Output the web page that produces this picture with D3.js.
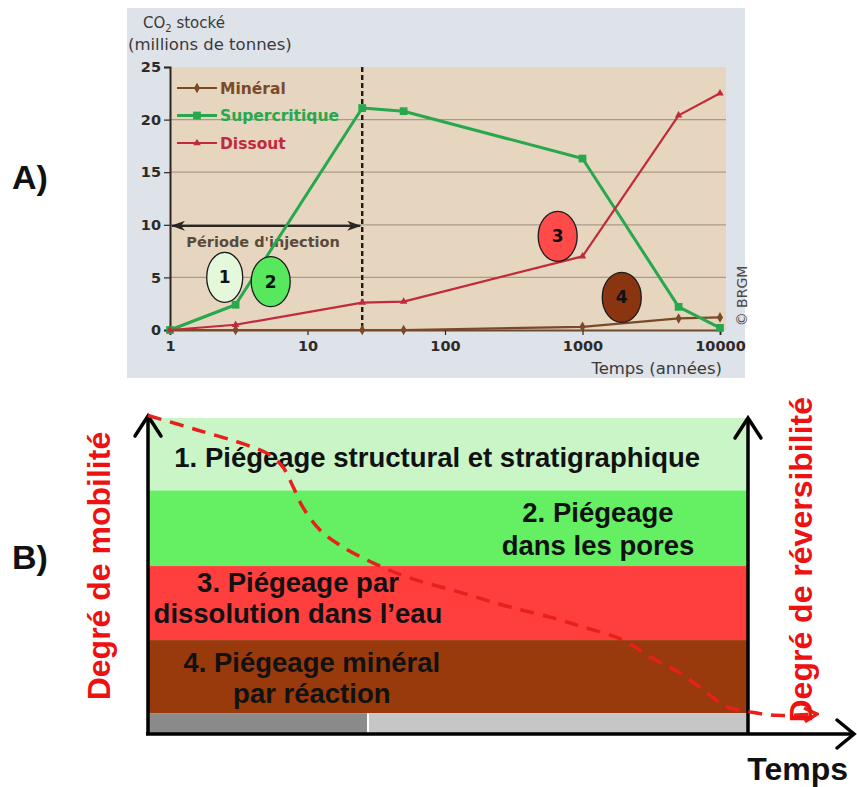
<!DOCTYPE html>
<html>
<head>
<meta charset="utf-8">
<script src="https://cdn.jsdelivr.net/npm/d3@7"></script>
<style>
body { margin: 0; background: #fff; }
svg text { font-family: "DejaVu Sans", sans-serif; }
.bfont { font-family: "Liberation Sans", Arial, sans-serif; font-weight: bold; }
</style>
</head>
<body>
<svg id="chart" width="857" height="787"></svg>
<script>

// ---- panel A data (millions de tonnes de CO2 stocke) ----
var years = [1, 3, 25, 50, 1000, 5000, 10000];
var mineral = [0, 0, 0, 0, 0.3, 1.1, 1.2];
var supercritique = [0, 2.4, 21.1, 20.8, 16.3, 2.2, 0.2];
var dissout = [0, 0.5, 2.6, 2.7, 7.0, 20.4, 22.5];

var xTicks = [1, 10, 100, 1000, 10000];
var yTicks = [0, 5, 10, 15, 20, 25];

var legendNames = ['Minéral', 'Supercritique', 'Dissout'];
var legendColors = ['#7a4a28', '#27a84c', '#c02a3c'];

var injectionEnd = 25;  // fin de la periode d'injection (annees)

// numbered bubbles: position (year, value) and fill
var bubbleLabels = ['1', '2', '3', '4'];
var bubbleYears = [2.5, 5.4, 660, 1930];
var bubbleValues = [5.0, 4.6, 8.9, 3.1];
var bubbleColors = ['#e4f8dc', '#58e85e', '#ff4a4a', '#8a3510'];

// ---- panel B data (schematic, 0-100 units) ----
var bandLines = [
	['1. Piégeage structural et stratigraphique'],
	['2. Piégeage', 'dans les pores'],
	['3. Piégeage par', 'dissolution dans l\u2019eau'],
	['4. Piégeage minéral', 'par réaction']
];
var bandTop = [100, 77, 53, 29.5];
var bandBottom = [77, 53, 29.5, 6.3];
var bandColors = ['#caf5c6', '#64f062', '#ff3e3e', '#983a0c'];
var bandTextX = [48.2, 75, 25, 27.3];
var bandTextY = [[84.4], [67, 56.5], [44.8, 34.9], [19.4, 9.5]];

var greySplit = 36.5;  // end of dark grey part of the time bar

// red dashed mobility curve
var curveT = [0, 8.2, 16.5, 20.3, 22.5, 24.2, 25.8, 28.7, 32.5, 37.5, 43.2, 52.5, 60.3, 67, 72.5, 79.2, 83.7, 88.7, 92.5, 96.5, 100.3, 104.5, 111.5];
var curveM = [100.8, 96.2, 91.4, 88.3, 84.4, 78.1, 71.7, 64.4, 59.0, 54.0, 49.5, 44.4, 40.0, 36.8, 33.7, 29.5, 24.1, 19.0, 13.7, 8.3, 6.7, 5.6, 6.0];


var svg = d3.select('#chart');

// ================= panel A =================
var x = d3.scaleLog().domain([1, 10000]).range([170, 720]);
var y = d3.scaleLinear().domain([0, 25]).range([330, 67]);

svg.append('rect')
	.attr('x', 127).attr('y', 8)
	.attr('width', 618).attr('height', 370)
	.attr('fill', '#dee2e9');

svg.append('rect')
	.attr('x', x(1)).attr('y', y(25))
	.attr('width', x(10000) - x(1) + 6)
	.attr('height', y(0) - y(25))
	.attr('fill', '#e6d5bf');

// gridlines
svg.append('g').selectAll('line')
	.data(yTicks.filter(function (d) { return d > 0 && d < 25; }))
	.enter().append('line')
	.attr('x1', x(1)).attr('x2', x(10000) + 6)
	.attr('y1', function (d) { return y(d); })
	.attr('y2', function (d) { return y(d); })
	.attr('stroke', '#aa9a88')
	.attr('stroke-width', 1.3);

// y axis
var yAxis = d3.axisLeft(y).tickValues(yTicks).tickSize(6).tickPadding(3);
var gy = svg.append('g')
	.attr('transform', 'translate(' + x(1) + ',0)')
	.call(yAxis);
gy.select('.domain').attr('stroke', '#2e2620').attr('stroke-width', 2);
gy.selectAll('.tick line').attr('stroke', '#2e2620').attr('stroke-width', 1.2);
gy.selectAll('.tick text')
	.attr('font-size', 14.5).attr('font-weight', 'bold')
	.attr('fill', '#2e2a28').attr('font-family', 'DejaVu Sans');

// x axis
var xAxis = d3.axisBottom(x).tickValues(xTicks).tickFormat(d3.format('d')).tickSize(5).tickPadding(6);
var gx = svg.append('g')
	.attr('transform', 'translate(0,' + y(0) + ')')
	.call(xAxis);
gx.select('.domain').attr('stroke', '#6a4a30').attr('stroke-width', 2);
gx.selectAll('.tick line').attr('stroke', '#2e2620').attr('stroke-width', 1.2);
gx.selectAll('.tick text')
	.attr('font-size', 14.5).attr('font-weight', 'bold')
	.attr('fill', '#2e2a28').attr('font-family', 'DejaVu Sans');

// axis titles
var yTitle = svg.append('text')
	.attr('x', 143).attr('y', 28)
	.attr('font-size', 15).attr('fill', '#3a3a3a');
yTitle.append('tspan').text('CO');
yTitle.append('tspan').attr('font-size', 10).attr('dy', 4).text('2');
yTitle.append('tspan').attr('dy', -4).text(' stocké');

svg.append('text')
	.attr('x', 128).attr('y', 50)
	.attr('font-size', 16.5).attr('fill', '#3a3a3a')
	.text('(millions de tonnes)');

svg.append('text')
	.attr('x', x(10000) + 2).attr('y', 374)
	.attr('text-anchor', 'end')
	.attr('font-size', 16.5).attr('fill', '#3a3a3a')
	.text('Temps (années)');

svg.append('text')
	.attr('transform', 'translate(747,296)rotate(-90)')
	.attr('text-anchor', 'middle')
	.attr('font-size', 14).attr('fill', '#4a4a4a')
	.text('© BRGM');

// injection period: dashed vertical + double arrow
svg.append('line')
	.attr('x1', x(injectionEnd)).attr('x2', x(injectionEnd))
	.attr('y1', y(25)).attr('y2', y(0))
	.attr('stroke', '#1e1a18').attr('stroke-width', 2.4)
	.attr('stroke-dasharray', '5,3');

var defs = svg.append('defs');
defs.append('marker')
	.attr('id', 'arrA').attr('viewBox', '0 0 14 10')
	.attr('refX', 13).attr('refY', 5)
	.attr('markerWidth', 14).attr('markerHeight', 10)
	.attr('markerUnits', 'userSpaceOnUse')
	.attr('orient', 'auto-start-reverse')
	.append('path').attr('d', 'M0,0 L14,5 L0,10 L4,5 Z').attr('fill', '#2a2624');

svg.append('line')
	.attr('x1', x(1) + 2).attr('x2', x(injectionEnd) - 2)
	.attr('y1', y(10) + 1).attr('y2', y(10) + 1)
	.attr('stroke', '#2a2624').attr('stroke-width', 2.2)
	.attr('marker-start', 'url(#arrA)')
	.attr('marker-end', 'url(#arrA)');

svg.append('text')
	.attr('x', (x(1) + x(injectionEnd)) / 2 - 3).attr('y', 247)
	.attr('text-anchor', 'middle')
	.attr('font-size', 14.5).attr('font-weight', 'bold')
	.attr('fill', '#5a4a3c')
	.text('Période d\'injection');

// series
var series = [mineral, supercritique, dissout];
var symbols = [d3.symbolDiamond, d3.symbolSquare, d3.symbolTriangle];
var symSizes = [32, 60, 24];
var widths = [2.2, 3, 2.2];

var line = d3.line()
	.x(function (d, i) { return x(years[i]); })
	.y(function (d) { return y(d); });

series.forEach(function (s, k) {
	svg.append('path')
		.attr('d', line(s))
		.attr('fill', 'none')
		.attr('stroke', legendColors[k])
		.attr('stroke-width', widths[k])
		.attr('stroke-linejoin', 'round');
	svg.append('g').selectAll('path')
		.data(s)
		.enter().append('path')
		.attr('transform', function (d, i) { return 'translate(' + x(years[i]) + ',' + y(d) + ')'; })
		.attr('d', d3.symbol().type(symbols[k]).size(symSizes[k]))
		.attr('fill', legendColors[k]);
});

// legend
var leg = svg.append('g');
legendNames.forEach(function (name, k) {
	var ly = 88 + k * 27.5;
	leg.append('line')
		.attr('x1', 177).attr('x2', 217)
		.attr('y1', ly).attr('y2', ly)
		.attr('stroke', legendColors[k]).attr('stroke-width', widths[k]);
	leg.append('path')
		.attr('transform', 'translate(197,' + ly + ')')
		.attr('d', d3.symbol().type(symbols[k]).size(symSizes[k]))
		.attr('fill', legendColors[k]);
	leg.append('text')
		.attr('x', 220).attr('y', ly + 5.5)
		.attr('font-size', 15.5).attr('font-weight', 'bold')
		.attr('fill', legendColors[k])
		.text(name);
});

// numbered bubbles
var bub = svg.append('g').selectAll('g')
	.data(bubbleLabels)
	.enter().append('g')
	.attr('transform', function (d, i) { return 'translate(' + x(bubbleYears[i]) + ',' + y(bubbleValues[i]) + ')'; });
bub.append('ellipse')
	.attr('rx', function (d, i) { return i == 0 ? 18 : 19.5; })
	.attr('ry', 25)
	.attr('fill', function (d, i) { return bubbleColors[i]; })
	.attr('stroke', '#1a1a1a').attr('stroke-width', 1.3);
bub.append('text')
	.attr('y', 6)
	.attr('text-anchor', 'middle')
	.attr('font-size', 17).attr('font-weight', 'bold')
	.attr('font-family', function (d, i) { return i < 2 ? 'DejaVu Sans' : 'Liberation Serif'; })
	.attr('fill', '#111')
	.text(function (d) { return d; });

// ================= panel B =================
var xB = d3.scaleLinear().domain([0, 100]).range([148, 748]);
var yB = d3.scaleLinear().domain([0, 100]).range([733, 418]);

svg.append('g').selectAll('rect')
	.data(bandColors)
	.enter().append('rect')
	.attr('x', xB(0)).attr('width', xB(100) - xB(0))
	.attr('y', function (d, i) { return yB(bandTop[i]); })
	.attr('height', function (d, i) { return yB(bandBottom[i]) - yB(bandTop[i]); })
	.attr('fill', function (d) { return d; });

// time bar
svg.append('rect')
	.attr('x', xB(0)).attr('y', yB(6.3))
	.attr('width', xB(greySplit) - xB(0)).attr('height', yB(0) - yB(6.3))
	.attr('fill', '#8a8a8a');
svg.append('rect')
	.attr('x', xB(greySplit) + 2).attr('y', yB(6.3))
	.attr('width', xB(100) - xB(greySplit) - 2).attr('height', yB(0) - yB(6.3))
	.attr('fill', '#c6c6c6');

// band labels
bandLines.forEach(function (lines, i) {
	lines.forEach(function (txt, j) {
		svg.append('text')
			.attr('class', 'bfont')
			.attr('x', xB(bandTextX[i])).attr('y', yB(bandTextY[i][j]))
			.attr('text-anchor', 'middle')
			.attr('font-size', 27.5)
			.attr('fill', '#111')
			.text(txt);
	});
});

// axes with open arrowheads
function chevron(tipX, tipY, dir) {
	var p;
	if (dir == 'up') p = [[tipX - 13, tipY + 20], [tipX, tipY], [tipX + 13, tipY + 20]];
	else p = [[tipX - 17, tipY - 14], [tipX, tipY], [tipX - 17, tipY + 14]];
	svg.append('path')
		.attr('d', d3.line()(p))
		.attr('fill', 'none').attr('stroke', '#000')
		.attr('stroke-width', 3.5).attr('stroke-linecap', 'round');
}

svg.append('line')
	.attr('x1', xB(0)).attr('x2', xB(0))
	.attr('y1', yB(0) + 2).attr('y2', yB(100) - 2)
	.attr('stroke', '#000').attr('stroke-width', 3.5);
chevron(xB(0), yB(100) - 2, 'up');

svg.append('line')
	.attr('x1', xB(100)).attr('x2', xB(100))
	.attr('y1', yB(0) + 2).attr('y2', yB(100))
	.attr('stroke', '#000').attr('stroke-width', 3.5);
chevron(xB(100), yB(100), 'up');

svg.append('line')
	.attr('x1', xB(0) - 2).attr('x2', 854)
	.attr('y1', yB(0) + 1).attr('y2', yB(0) + 1)
	.attr('stroke', '#000').attr('stroke-width', 3.5);
chevron(854, yB(0) + 1, 'right');

// red dashed curve
defs.append('marker')
	.attr('id', 'arrR').attr('viewBox', '0 0 14 14')
	.attr('refX', 12).attr('refY', 7)
	.attr('markerWidth', 16).attr('markerHeight', 16)
	.attr('markerUnits', 'userSpaceOnUse')
	.attr('orient', 'auto')
	.append('path').attr('d', 'M1,1 L12,7 L1,13').attr('fill', 'none')
	.attr('stroke', '#e8201c').attr('stroke-width', 3);

var curve = d3.line()
	.x(function (d, i) { return xB(curveT[i]); })
	.y(function (d) { return yB(d); })
	.curve(d3.curveCatmullRom);

svg.append('path')
	.attr('d', curve(curveM))
	.attr('fill', 'none')
	.attr('stroke', '#e8201c').attr('stroke-width', 3.5)
	.attr('stroke-dasharray', '14,9')
	.attr('marker-end', 'url(#arrR)');

// side titles
svg.append('text')
	.attr('class', 'bfont')
	.attr('transform', 'translate(110,' + yB(53) + ')rotate(-90)')
	.attr('text-anchor', 'middle')
	.attr('font-size', 32).attr('fill', '#ee1111')
	.text('Degré de mobilité');

svg.append('text')
	.attr('class', 'bfont')
	.attr('transform', 'translate(812,' + yB(55) + ')rotate(-90)')
	.attr('text-anchor', 'middle')
	.attr('font-size', 32).attr('fill', '#ee1111')
	.text('Degré de réversibilité');

svg.append('text')
	.attr('class', 'bfont')
	.attr('x', 848).attr('y', 780)
	.attr('text-anchor', 'end')
	.attr('font-size', 32).attr('fill', '#111')
	.text('Temps');

// panel letters
svg.append('text').attr('class', 'bfont')
	.attr('x', 12).attr('y', 189)
	.attr('font-size', 34).attr('fill', '#111')
	.text('A)');
svg.append('text').attr('class', 'bfont')
	.attr('x', 12).attr('y', 569)
	.attr('font-size', 34).attr('fill', '#111')
	.text('B)');

</script>
</body>
</html>
